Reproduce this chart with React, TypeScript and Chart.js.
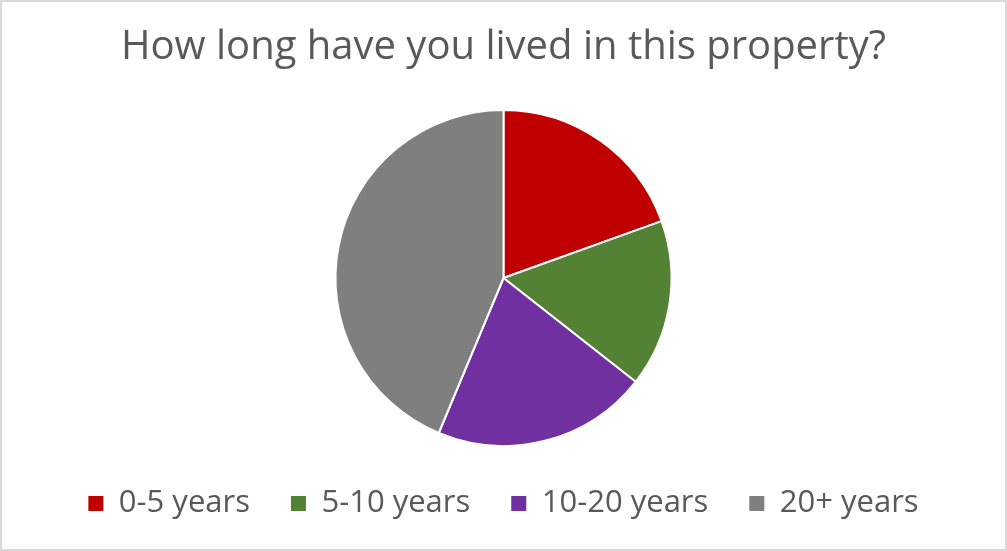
import React, { useEffect, useRef } from "react";
import { Chart, registerables } from "chart.js";

Chart.register(...registerables);

const categories = ["0-5 years", "5-10 years", "10-20 years", "20+ years"];
const values = [19.5, 16.1, 20.7, 43.7];
const colors = ["#C00000", "#548235", "#7030A0", "#7F7F7F"];
const titleText = "How long have you lived in this property?";

export default function App() {
  const ref = useRef<HTMLCanvasElement | null>(null);

  useEffect(() => {
    if (!ref.current) return;
    const chart = new Chart(ref.current, {
      type: "pie",
      data: {
        labels: categories,
        datasets: [
          {
            data: values,
            backgroundColor: colors,
            borderColor: "#FFFFFF",
            borderWidth: 2,
          },
        ],
      },
      options: {
        animation: false,
        responsive: true,
        maintainAspectRatio: false,
        layout: { padding: { top: 0, bottom: 20, left: 0, right: 0 } },
        plugins: {
          title: {
            display: true,
            text: titleText,
            color: "#595959",
            font: { family: "'Open Sans'", size: 40, weight: "normal", lineHeight: 1.2 },
            padding: { top: 22, bottom: 37 },
          },
          legend: {
            position: "bottom",
            labels: {
              color: "#595959",
              font: { family: "'Open Sans'", size: 31 },
              boxWidth: 15,
              boxHeight: 15,
              padding: 41,
              generateLabels: (c: any) =>
                (Chart as any).overrides.pie.plugins.legend.labels
                  .generateLabels(c)
                  .map((l: any) => ({ ...l, lineWidth: 0, strokeStyle: l.fillStyle })),
            },
          },
          tooltip: { enabled: false },
        },
      },
    });
    return () => chart.destroy();
  }, []);

  return (
    <div
      style={{
        position: "absolute",
        left: 0,
        top: 0,
        width: 1007,
        height: 551,
        boxSizing: "border-box",
        border: "2px solid #D9D9D9",
        background: "#FFFFFF",
      }}
    >
      <canvas ref={ref} />
    </div>
  );
}
